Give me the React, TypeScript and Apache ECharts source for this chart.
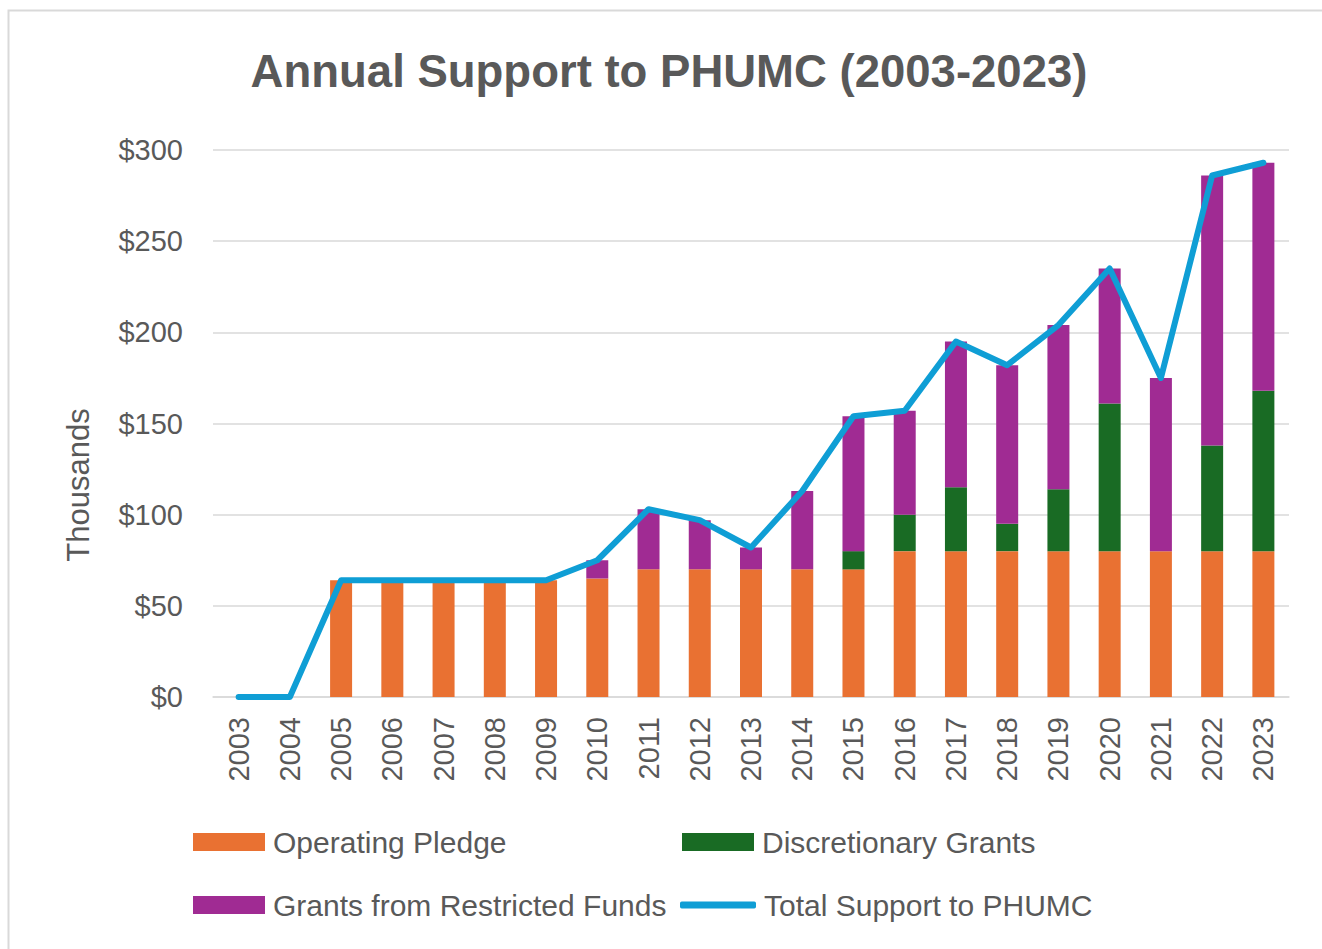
import React, { useEffect, useRef } from "react";
import * as echarts from "echarts";

const years = ["2003","2004","2005","2006","2007","2008","2009","2010","2011","2012","2013","2014","2015","2016","2017","2018","2019","2020","2021","2022","2023"];
const operatingPledge = [0,0,64,64,64,64,64,65,70,70,70,70,70,80,80,80,80,80,80,80,80];
const discretionaryGrants = [0,0,0,0,0,0,0,0,0,0,0,0,10,20,35,15,34,81,0,58,88];
const restrictedGrants = [0,0,0,0,0,0,0,10,33,27,12,43,74,57,80,87,90,74,95,148,125];
const totalSupport = [0,0,64,64,64,64,64,75,103,97,82,113,154,157,195,182,204,235,175,286,293];

const GREY = "#595959";
const NARROW = "'Liberation Sans Narrow', 'Arial Narrow', 'Liberation Sans', sans-serif";
const SANS = "'Liberation Sans', Arial, sans-serif";

export default function App() {
  const ref = useRef<HTMLDivElement>(null);
  useEffect(() => {
    document.body.style.margin = "0";
    const chart = echarts.init(ref.current!, undefined, { renderer: "svg" });
    const legendBase = (name: string, left: number, top: number, extra: any = {}) => ({
      data: [{ name, icon: extra.icon ?? "rect" }],
      left,
      top,
      padding: 0,
      itemWidth: extra.itemWidth ?? 72,
      itemHeight: extra.itemHeight ?? 18,
      itemGap: 0,
      selectedMode: false,
      textStyle: { fontFamily: NARROW, fontSize: 30, color: GREY, padding: [0, 0, 0, 3] },
    });
    chart.setOption({
      animation: false,
      backgroundColor: "#ffffff",
      graphic: [
        { type: "rect", shape: { x: 8.5, y: 10.5, width: 1400, height: 1000 }, style: { fill: "none", stroke: "#d9d9d9", lineWidth: 2 }, silent: true },
        { type: "text", x: 669, y: 71, style: { text: "Annual Support to PHUMC (2003-2023)", fontFamily: SANS, fontWeight: "bold", fontSize: 45.5, fill: GREY, textAlign: "center", textVerticalAlign: "middle" } },
        { type: "text", x: 78, y: 485, rotation: Math.PI / 2, style: { text: "Thousands", fontFamily: SANS, fontSize: 31, fill: GREY, textAlign: "center", textVerticalAlign: "middle" } },
      ],
      grid: { left: 213, right: 33, top: 150, bottom: 252, containLabel: false },
      legend: [
        legendBase("Operating Pledge", 193, 827),
        legendBase("Discretionary Grants", 682, 827),
        legendBase("Grants from Restricted Funds", 193, 890),
        legendBase("Total Support to PHUMC", 680, 890, { icon: "roundRect", itemHeight: 7, itemWidth: 76 }),
      ],
      xAxis: {
        type: "category",
        data: years,
        axisLine: { lineStyle: { color: "#d9d9d9", width: 1.5 } },
        axisTick: { show: false },
        axisLabel: { rotate: 90, fontFamily: SANS, fontSize: 29, color: GREY, margin: 20 },
      },
      yAxis: {
        type: "value",
        min: 0,
        max: 300,
        interval: 50,
        axisLine: { show: false },
        axisTick: { show: false },
        splitLine: { lineStyle: { color: "#d9d9d9", width: 1.5 } },
        axisLabel: { formatter: (v: number) => "$" + v, fontFamily: SANS, fontSize: 29, color: GREY, margin: 30 },
      },
      series: [
        { name: "Operating Pledge", type: "bar", stack: "s", data: operatingPledge, barWidth: 22, itemStyle: { color: "#E97132" } },
        { name: "Discretionary Grants", type: "bar", stack: "s", data: discretionaryGrants, barWidth: 22, itemStyle: { color: "#196B24" } },
        { name: "Grants from Restricted Funds", type: "bar", stack: "s", data: restrictedGrants, barWidth: 22, itemStyle: { color: "#A02B93" } },
        { name: "Total Support to PHUMC", type: "line", data: totalSupport, showSymbol: false, symbol: "none", z: 5, lineStyle: { color: "#0F9ED5", width: 6, cap: "round", join: "round" }, itemStyle: { color: "#0F9ED5" } },
      ],
    });
    return () => chart.dispose();
  }, []);
  return <div ref={ref} style={{ width: 1322, height: 949 }} />;
}
